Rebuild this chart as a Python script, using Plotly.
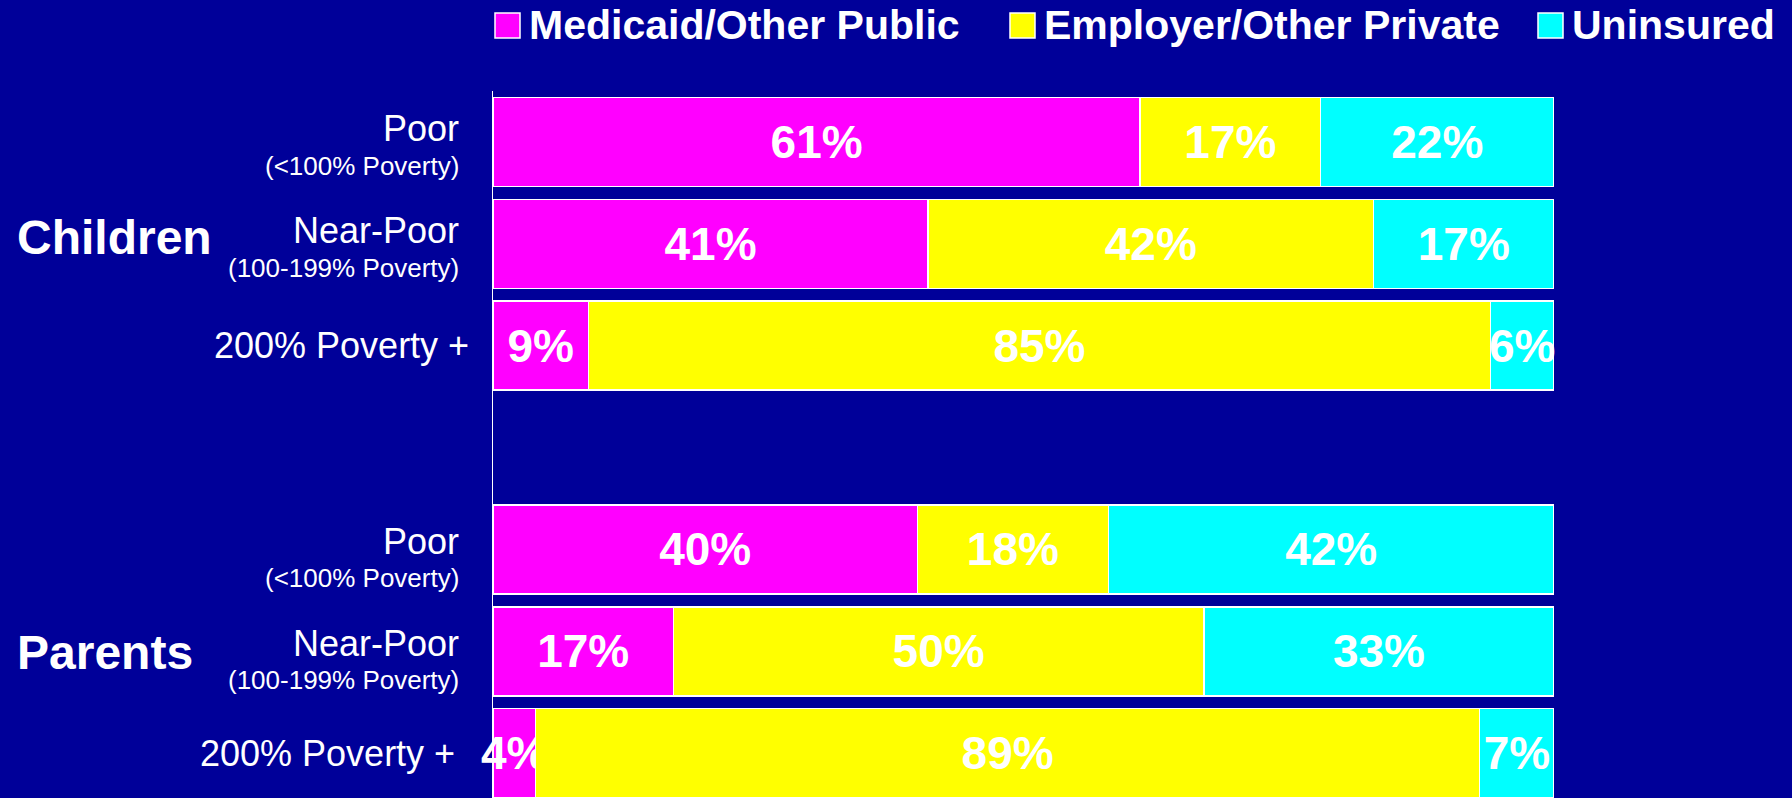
import plotly.graph_objects as go

# rows (top to bottom); "" is the blank spacer row between the two groups
row_ids = ["c_poor", "c_near", "c_200", "", "p_poor", "p_near", "p_200"]
row_titles = ["Poor", "Near-Poor", "200% Poverty +", None, "Poor", "Near-Poor", "200% Poverty +"]
row_subtitles = ["(<100% Poverty)", "(100-199% Poverty)", None, None,
                 "(<100% Poverty)", "(100-199% Poverty)", None]
groups = {"Children": "c_near", "Parents": "p_near"}

series_names = ["Medicaid/Other Public", "Employer/Other Private", "Uninsured"]
medicaid = [61, 41, 9, None, 40, 17, 4]
employer = [17, 42, 85, None, 18, 50, 89]
uninsured = [22, 17, 6, None, 42, 33, 7]
colors = ["#FF00FF", "#FFFF00", "#00FFFF"]

BG = "#000099"
FONT = "Liberation Sans, Arial, Helvetica, sans-serif"

W, H = 1792, 798
L, R, T, B = 493, 238, 91, 0
plot_w = W - L - R
plot_h = H - T - B


def px_x(x):
    return (x - L) / plot_w


def px_y(y):
    return (H - B - y) / plot_h


fig = go.Figure()
for name, vals, col in zip(series_names, [medicaid, employer, uninsured], colors):
    fig.add_trace(go.Bar(
        y=row_ids, x=vals, name=name, orientation="h",
        marker=dict(color=col, line=dict(color="white", width=1.5)),
        text=[f"{v}%" if v is not None else "" for v in vals],
        textposition="inside", insidetextanchor="middle", textangle=0,
        constraintext="none", cliponaxis=False,
        textfont=dict(color="white", size=46, family=FONT, weight="bold"),
        hoverinfo="skip", showlegend=False,
    ))

annotations = []
# row labels
for rid, title, sub in zip(row_ids, row_titles, row_subtitles):
    if title is None:
        continue
    if sub is None:
        shift = -22 if rid == "c_200" else -36
        annotations.append(dict(x=0, xref="paper", y=rid, yref="y", xanchor="right",
                                yanchor="middle", xshift=shift, showarrow=False,
                                text=title, font=dict(size=36, color="white", family=FONT)))
    else:
        up = 13 if rid.startswith("c") else 8
        annotations.append(dict(x=0, xref="paper", y=rid, yref="y", xanchor="right",
                                yanchor="middle", xshift=-32, yshift=up, showarrow=False,
                                text=title, font=dict(size=36, color="white", family=FONT)))
        annotations.append(dict(x=0, xref="paper", y=rid, yref="y", xanchor="right",
                                yanchor="middle", xshift=-32, yshift=up - 37, showarrow=False,
                                text=sub, font=dict(size=26, color="white", family=FONT)))

# group labels
for gname, rid in groups.items():
    annotations.append(dict(x=px_x(15), xref="paper", y=rid, yref="y", xanchor="left",
                            yanchor="middle", yshift=6 if gname == "Children" else -1,
                            showarrow=False, text=f"<b>{gname}</b>",
                            font=dict(size=48, color="white", family=FONT)))

# legend drawn by hand so the swatches can be large
shapes = []
legend_x = [495, 1010, 1538]
for name, col, lx in zip(series_names, colors, legend_x):
    shapes.append(dict(type="rect", xref="paper", yref="paper",
                       x0=px_x(lx), x1=px_x(lx + 25), y0=px_y(38), y1=px_y(13),
                       fillcolor=col, line=dict(color="white", width=1.5)))
    annotations.append(dict(x=px_x(lx + 32), xref="paper", y=px_y(25), yref="paper",
                            xanchor="left", yanchor="middle", showarrow=False,
                            text=f"<b>{name}</b>",
                            font=dict(size=41, color="white", family=FONT)))

fig.update_layout(
    barmode="stack",
    bargap=0.127,
    width=W, height=H,
    margin=dict(l=L, r=R, t=T, b=B, pad=0),
    paper_bgcolor=BG, plot_bgcolor=BG,
    xaxis=dict(range=[0, 100], visible=False, fixedrange=True),
    yaxis=dict(categoryorder="array", categoryarray=row_ids, range=[6.44, -0.5],
               showticklabels=False, showgrid=False, zeroline=False,
               showline=True, linecolor="white", linewidth=1, ticks=""),
    annotations=annotations,
    shapes=shapes,
    font=dict(family=FONT, color="white"),
)

# drop the page's default body margin so the figure fills the window
fig.write_html("out.html", config={"displayModeBar": False},
               post_script="document.body.style.margin='0';"
                           "document.body.style.overflow='hidden';")
